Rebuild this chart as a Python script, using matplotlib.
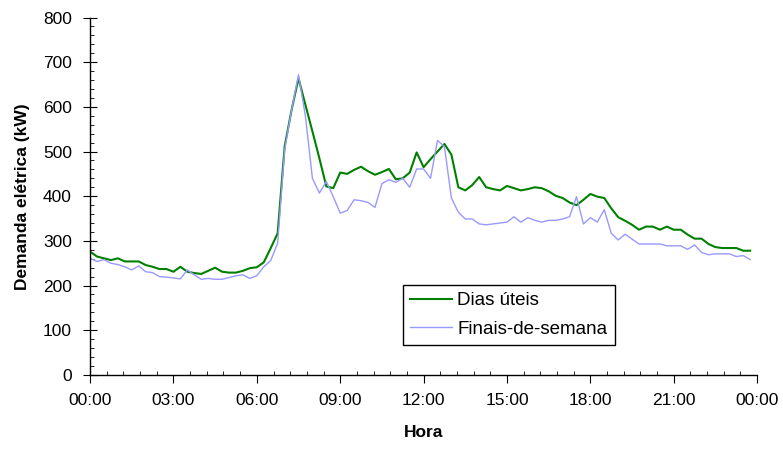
import numpy as np
from matplotlib import pyplot as plt
from matplotlib.ticker import MultipleLocator, FuncFormatter

plt.rcParams['font.family'] = ['Liberation Sans', 'DejaVu Sans']

# 15-minute readings, 00:00 .. 23:45
hours = np.arange(96) * 0.25

dias_uteis = [
    276, 265, 261, 257, 261, 254, 254, 254, 246, 242, 237, 237, 231, 242, 231, 228,
    226, 233, 240, 231, 229, 229, 233, 239, 241, 252, 284, 317, 511, 593, 664, 604,
    545, 485, 422, 418, 453, 450, 459, 466, 456, 448, 454, 461, 438, 440, 453, 498,
    465, 483, 500, 517, 493, 420, 413, 425, 443, 420, 416, 413, 423, 418, 413, 416,
    420, 418, 411, 401, 396, 386, 380, 392, 405, 399, 396, 373, 353, 345, 336, 325,
    332, 332, 325, 332, 325, 325, 314, 305, 305, 293, 286, 284, 284, 284, 278, 278,
]

finais_de_semana = [
    261, 254, 258, 250, 247, 242, 235, 244, 231, 229, 220, 219, 217, 215, 235, 224,
    214, 216, 214, 214, 218, 222, 224, 216, 222, 242, 256, 295, 504, 593, 672, 578,
    440, 407, 433, 399, 362, 368, 392, 390, 386, 375, 428, 437, 431, 440, 420, 461,
    461, 440, 525, 511, 396, 364, 349, 349, 338, 336, 338, 340, 342, 354, 342, 352,
    346, 342, 346, 346, 349, 354, 399, 338, 352, 342, 370, 317, 302, 315, 304, 293,
    293, 293, 293, 289, 289, 289, 281, 291, 274, 269, 271, 271, 271, 265, 267, 258,
]

fig = plt.figure(figsize=(7.83, 4.49), dpi=100)
ax = fig.add_axes([0.115, 0.165, 0.852, 0.796])

ax.plot(hours, dias_uteis, color='#008000', linewidth=1.5, label='Dias úteis')
ax.plot(hours, finais_de_semana, color='#9999ff', linewidth=1.0, label='Finais-de-semana')

ax.set_xlim(0, 24)
ax.set_ylim(0, 800)
ax.xaxis.set_major_locator(MultipleLocator(3))
ax.xaxis.set_minor_locator(MultipleLocator(0.6))
ax.yaxis.set_major_locator(MultipleLocator(100))
ax.yaxis.set_minor_locator(MultipleLocator(20))
ax.xaxis.set_major_formatter(FuncFormatter(lambda v, p: '%02d:00' % (int(round(v)) % 24)))

ax.tick_params(axis='x', which='major', direction='out', length=6, labelsize=12.5, pad=7)
ax.tick_params(axis='y', which='major', direction='inout', length=10, labelsize=12.5, pad=8)
ax.tick_params(which='minor', direction='in', length=3)

for s in ['top', 'right']:
    ax.spines[s].set_visible(False)
ax.spines['left'].set_linewidth(1)
ax.spines['bottom'].set_linewidth(1)

ax.set_xlabel('Hora', fontsize=12.5, fontweight='bold', labelpad=12)
ax.set_ylabel('Demanda elétrica (kW)', fontsize=12.5, fontweight='bold', labelpad=9)

leg = ax.legend(loc='upper left', bbox_to_anchor=(0.469, 0.252), borderaxespad=0,
                fontsize=13.5, fancybox=False, framealpha=1, edgecolor='black',
                handlelength=2.2, handletextpad=0.3, borderpad=0.4, labelspacing=0.6)
leg.get_frame().set_linewidth(1)

plt.savefig('out.png', dpi=100)
